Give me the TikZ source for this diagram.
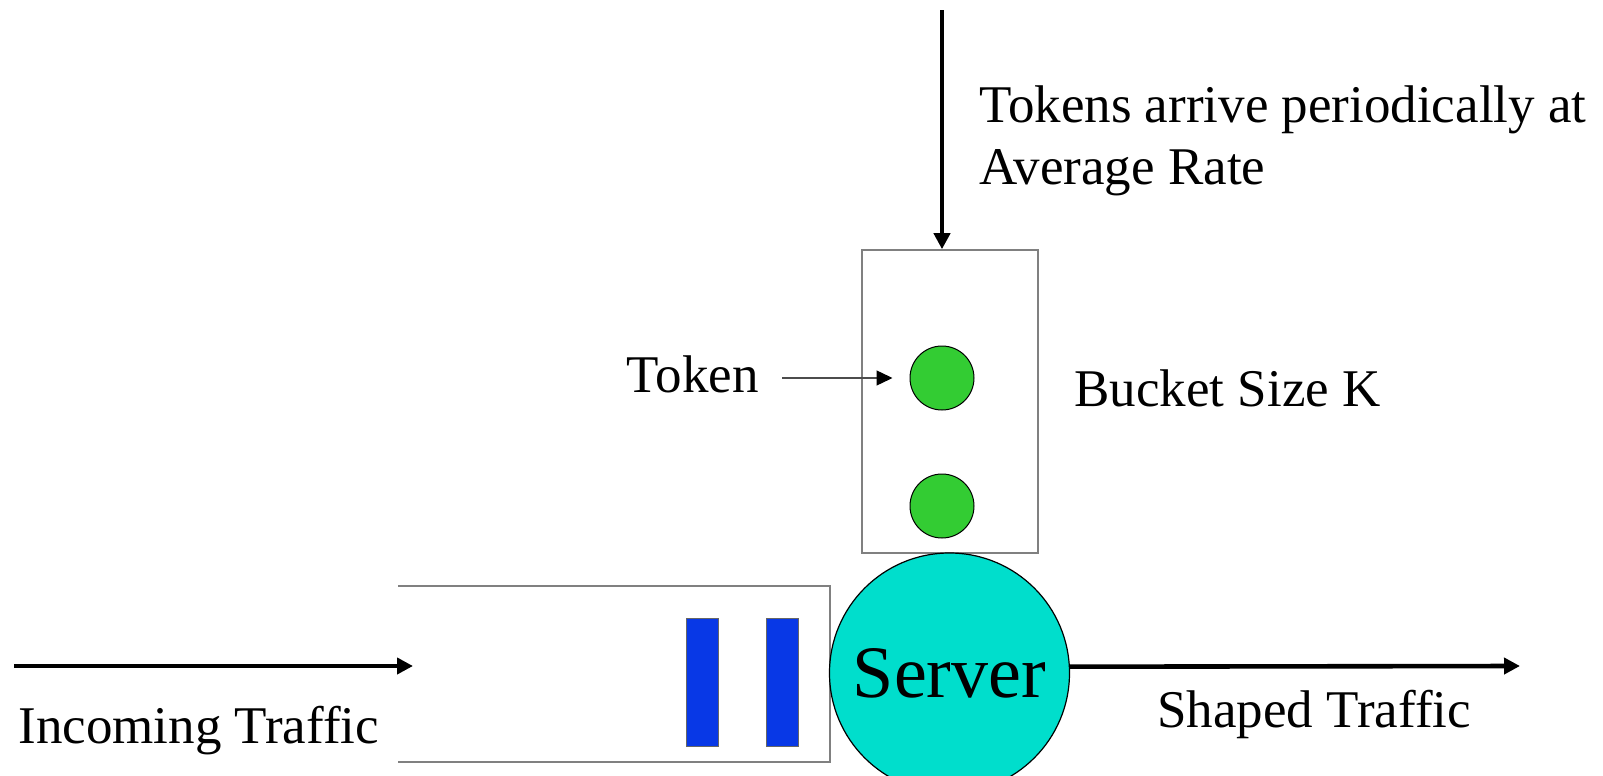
\documentclass[tikz,border=0pt]{standalone}
\usepackage{fontspec}
\setmainfont{Liberation Serif}
\usetikzlibrary{arrows.meta,calc}
\definecolor{tokgreen}{RGB}{51,204,51}
\definecolor{servcyan}{RGB}{0,222,204}
\definecolor{pktblue}{RGB}{8,56,230}
\definecolor{boxgray}{RGB}{128,128,128}
\tikzset{
  lbl/.style={font=\fontsize{26.5}{31}\selectfont, inner sep=0pt},
  bigarrow/.style={line width=2.3pt, -{Triangle[length=8pt,width=8pt]}},
  thinarrow/.style={line width=0.7pt, draw=black!70, -{Triangle[length=8pt,width=7.5pt,color=black]}},
  container/.style={draw=boxgray, line width=0.8pt},
  tokenball/.style={circle, draw=black, line width=0.5pt, fill=tokgreen, minimum size=32pt, inner sep=0pt},
  packet/.style={draw=black!60, line width=0.5pt, fill=pktblue, minimum width=16pt, minimum height=64pt, inner sep=0pt},
  server/.style={circle, draw=black, line width=0.6pt, fill=servcyan, minimum size=120pt, inner sep=0pt, font=\fontsize{37}{40}\selectfont},
}
\begin{document}
\begin{tikzpicture}[x=0.5pt,y=-0.5pt]
\useasboundingbox (0,0) rectangle (1603,776);

% bucket
\node[container, draw, rectangle, minimum width=88pt, minimum height=151.5pt, inner sep=0pt] (bucket) at (950,401.5) {};
\node[tokenball] (t1) at (942,378) {};
\node[tokenball] (t2) at (942,506) {};

% token arrival
\coordinate (src) at (942,10);
\draw[bigarrow] (src) -- (src |- bucket.north);
\node[lbl, anchor=base west, align=left] (rate) at (979,184) {Tokens arrive periodically at\\Average Rate};

% token label
\node[lbl, anchor=base east] (toklbl) at (759,392) {Token};
\draw[thinarrow] ($(toklbl.east |- t1.center)+(23,0)$) -- ($(t1.west)+(-17,0)$);

\node[lbl, anchor=base west] (bucketlbl) at (1074,406) {Bucket Size K};

% queue
\draw[container] (398,586) -- (830,586) -- (830,762) -- (398,762);
\node[packet] (p1) at (702,682) {};
\node[packet] (p2) at (782,682) {};

% server (clipped at the bottom edge)
\begin{scope}
\clip (0,0) rectangle (1603,776);
\node[server] (srv) at (949.5,673) {Server};
\end{scope}

% traffic arrows
\coordinate (inA) at (14,666);
\coordinate (inB) at (413,666);
\draw[bigarrow] (inA) -- (inB);
\node[lbl, anchor=base west] (inlbl) at (18,743) {Incoming Traffic};

\coordinate (outB) at (1520,666);
\draw[bigarrow] (srv.3.3) -- (outB);
\node[lbl, anchor=base west] (outlbl) at (1157,727) {Shaped Traffic};
\end{tikzpicture}
\end{document}
